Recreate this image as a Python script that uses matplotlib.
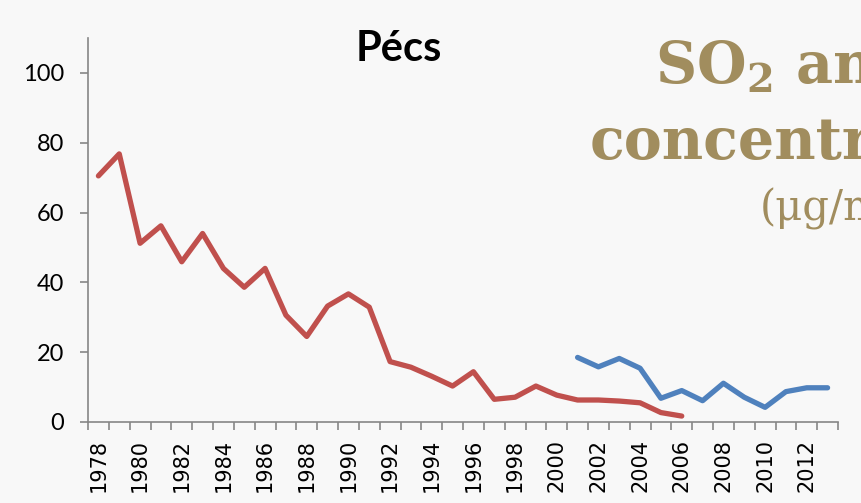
import numpy as np
import matplotlib
matplotlib.use('Agg')
import matplotlib.pyplot as plt

# data
years = list(range(1978, 2014))
red_years = list(range(1978, 2007))
red_vals = [70.5, 76.8, 51.2, 56.2, 45.9, 54.0, 44.0, 38.6, 44.0, 30.6,
            24.5, 33.2, 36.7, 32.9, 17.3, 15.7, 13.1, 10.3, 14.4, 6.5,
            7.1, 10.3, 7.7, 6.3, 6.3, 6.0, 5.5, 2.7, 1.7]
blue_years = list(range(2001, 2014))
blue_vals = [18.5, 15.8, 18.2, 15.4, 6.8, 9.0, 6.1, 11.1, 7.1, 4.2, 8.7, 9.8, 9.8]
xlabels = [str(y) for y in range(1978, 2013, 2)]
yticks = [0, 20, 40, 60, 80, 100]

bg = '#f8f8f8'
axcol = '#868686'
tan = '#a18d5e'

plt.rcParams['mathtext.fontset'] = 'dejavuserif'

fig = plt.figure(figsize=(8.61, 5.03), dpi=100, facecolor=bg)
ax = fig.add_axes([88/861, 1-422/503, 750/861, 384/503])
ax.set_facecolor(bg)

ax.plot(red_years, red_vals, color='#c0504d', lw=3.8, solid_capstyle='round', solid_joinstyle='round')
ax.plot(blue_years, blue_vals, color='#4f81bd', lw=3.8, solid_capstyle='round', solid_joinstyle='round')

ax.set_xlim(years[0]-0.5, years[-1]+0.5)
ax.set_ylim(0, 110)

for s in ['top', 'right']:
    ax.spines[s].set_visible(False)
for s in ['left', 'bottom']:
    ax.spines[s].set_color(axcol)
    ax.spines[s].set_linewidth(1.2)

ax.set_yticks(yticks)
ax.set_yticklabels([str(v) for v in yticks], fontfamily='Lato', fontsize=17)
ax.tick_params(axis='y', length=6, width=1.2, color=axcol, pad=11)

ax.set_xticks(range(1978, 2013, 2))
ax.set_xticklabels(xlabels, rotation=90, fontfamily='DejaVu Sans', fontsize=15)
ax.set_xticks(np.arange(years[0]-0.5, years[-1]+1, 1), minor=True)
ax.tick_params(axis='x', which='major', length=0, pad=12)
ax.tick_params(axis='x', which='minor', length=6, width=1.2, color=axcol)

fig.text(399/861, 1-49/503, 'Pécs', fontfamily='Lato', fontweight='bold', fontsize=30,
         ha='center', va='center')

fig.text(655/861, 1-83/503, r'SO$_\mathbf{2}$ annual', fontfamily='DejaVu Serif', fontweight='bold',
         fontsize=41, color=tan, ha='left', va='baseline')
fig.text(590/861, 1-159/503, 'concentration', fontfamily='DejaVu Serif', fontweight='bold',
         fontsize=41, color=tan, ha='left', va='baseline')
fig.text(760/861, 1-220/503, '(μg/m³)', fontfamily='DejaVu Serif',
         fontsize=30, color=tan, ha='left', va='baseline')

fig.savefig('out.png', dpi=100, facecolor=bg)
